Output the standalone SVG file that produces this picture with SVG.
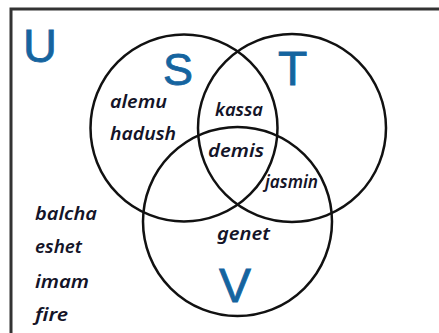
<svg xmlns="http://www.w3.org/2000/svg" width="439" height="333" viewBox="0 0 439 333">
<style>
.set{fill:none;stroke:#111;stroke-width:2.5}
.lbl{font-family:"Liberation Sans",Arial,sans-serif;fill:#15649f;stroke:#15649f;stroke-width:0.8}
.nm{font-family:"Noto Sans","DejaVu Sans",sans-serif;font-style:italic;font-weight:600;font-size:17.5px;fill:#141428}
</style>
<rect x="0" y="0" width="439" height="333" fill="#fff"/>
<g id="universe">
<path d="M11,340 V9 H445" fill="none" stroke="#333" stroke-width="3"/>
<text class="lbl" x="23" y="62" font-size="47">U</text>
</g>
<g id="set-S">
<circle class="set" cx="184" cy="128" r="93.5"/>
<text class="lbl" x="163" y="85" font-size="45">S</text>
</g>
<g id="set-T">
<circle class="set" cx="292" cy="128" r="94"/>
<text class="lbl" x="278" y="85" font-size="48">T</text>
</g>
<g id="set-V">
<circle class="set" cx="237.5" cy="221.5" r="94.5"/>
<text class="lbl" x="219" y="302" font-size="48">V</text>
</g>
<g id="elements">
<text class="nm" x="110" y="108" textLength="57" lengthAdjust="spacingAndGlyphs">alemu</text>
<text class="nm" x="110" y="140" textLength="66" lengthAdjust="spacingAndGlyphs">hadush</text>
<text class="nm" x="215" y="116" textLength="48" lengthAdjust="spacingAndGlyphs">kassa</text>
<text class="nm" x="208" y="157" textLength="56" lengthAdjust="spacingAndGlyphs">demis</text>
<text class="nm" x="265" y="188" textLength="53" lengthAdjust="spacingAndGlyphs">jasmin</text>
<text class="nm" x="217" y="240" textLength="53" lengthAdjust="spacingAndGlyphs">genet</text>
<text class="nm" x="35" y="220" textLength="62" lengthAdjust="spacingAndGlyphs">balcha</text>
<text class="nm" x="35" y="253" textLength="47" lengthAdjust="spacingAndGlyphs">eshet</text>
<text class="nm" x="35" y="288" textLength="54" lengthAdjust="spacingAndGlyphs">imam</text>
<text class="nm" x="35" y="321" textLength="33" lengthAdjust="spacingAndGlyphs">fire</text>
</g>
</svg>
